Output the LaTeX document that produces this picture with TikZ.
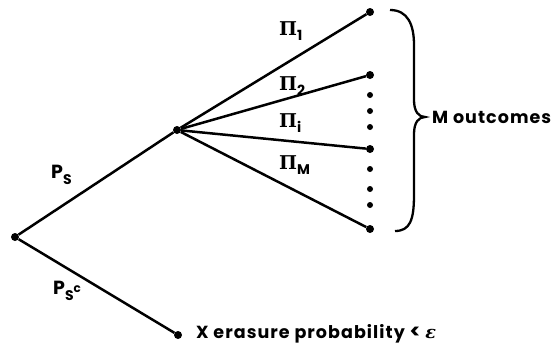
\documentclass[tikz,border=0pt]{standalone}
\usepackage{fontspec}
\setmainfont{Poppins}[LetterSpace=6]
\newfontfamily\grk{DejaVu Serif}
\newcommand{\sbx}[1]{\raisebox{-0.5ex}{\fontsize{14}{14}\selectfont #1}}
\begin{document}
\begin{tikzpicture}[x=1pt,y=-1pt,
  dot/.style={circle,fill=black,inner sep=0pt,minimum size=8pt},
  sdot/.style={circle,fill=black,inner sep=0pt,minimum size=6pt},
  edge/.style={line width=2.5pt},
  lbl/.style={inner sep=0pt,font=\bfseries\fontsize{19}{19}\selectfont},
  txt/.style={inner sep=0pt,anchor=west,font=\bfseries\fontsize{17.5}{17.5}\selectfont}]
\useasboundingbox (0,0) rectangle (555,349);
\node[dot] (r) at (15,237) {};
\node[dot] (m) at (177,130) {};
\node[dot] (x) at (178,335) {};
\node[dot] (o1) at (370,12) {};
\node[dot] (o2) at (370,75) {};
\node[dot] (oi) at (370,149) {};
\node[dot] (oM) at (370,229) {};
\foreach \y/\n in {95/a,111/b,127/c,169/d,189/e,205/f}
  \node[sdot] (d\n) at (370,\y) {};
\draw[edge] (r) -- (m);
\draw[edge] (r) -- (x);
\draw[edge] (m) -- (o1);
\draw[edge] (m) -- (o2);
\draw[edge] (m) -- (oi);
\draw[edge] (m) -- (oM);
\draw[line width=2.3pt] (390,10) .. controls (408,10) and (414,25) .. (414,45) -- (414,100)
  .. controls (414,112) and (419,117) .. (425,117)
  .. controls (419,117) and (414,122) .. (414,134) -- (414,195)
  .. controls (414,220) and (410,231) .. (395,231);
\node[txt] (mo) at (432,117) {M outcomes};
\node[txt] (er) at (196,334) {X erasure probability {\fontsize{20}{20}\selectfont<} {\grk\itshape ε}};
\node[lbl,anchor=west] (p1) at (279,31) {{\grk Π}\sbx{1}};
\node[lbl,anchor=west] (p2) at (279,86) {{\grk Π}\sbx{2}};
\node[lbl,anchor=west] (pi) at (279,123) {{\grk Π}\sbx{i}};
\node[lbl,anchor=west] (pM) at (279,165) {{\grk Π}\sbx{M}};
\node[lbl,anchor=west] (ps) at (51,175) {P\sbx{S}};
\node[lbl,anchor=west] (psc) at (53,291) {P\raisebox{-0.6ex}{\fontsize{14}{14}\selectfont S\raisebox{1ex}{\fontsize{12}{12}\selectfont c}}};
\end{tikzpicture}
\end{document}
